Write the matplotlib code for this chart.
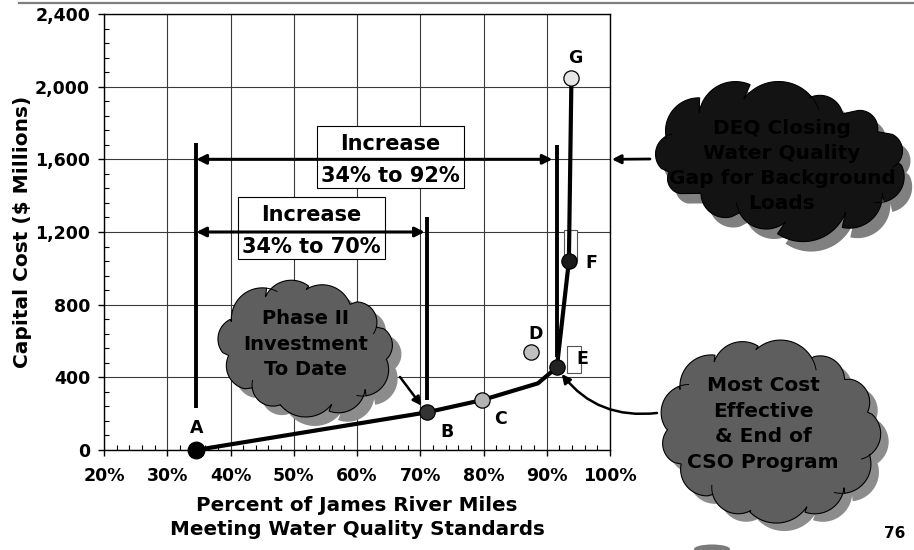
import numpy as np
import matplotlib
matplotlib.use("Agg")
import matplotlib.pyplot as plt
from matplotlib.transforms import Affine2D
from matplotlib.patches import Polygon, Rectangle, Ellipse
from matplotlib.lines import Line2D
from matplotlib.ticker import MultipleLocator, FuncFormatter

plt.rcParams["font.family"] = ["DejaVu Sans"]
plt.rcParams["font.weight"] = "bold"

# ---------------- data ----------------
point_labels = ["A", "B", "C", "D", "E", "F", "G"]
point_pct = [34.6, 71.0, 79.8, 87.5, 91.6, 93.5, 93.9]
point_cost = [0, 207, 275, 540, 455, 1040, 2045]
point_colors = ["#000000", "#333333", "#b3b3b3", "#c0c0c0", "#222222", "#1a1a1a", "#e6e6e6"]

curve_pct = [34.6, 71.0, 79.8, 88.6, 91.6, 93.5, 93.9]
curve_cost = [0, 207, 275, 367, 455, 1040, 2045]

ref_pct = [34.6, 71.0, 91.6]          # vertical reference bars
ref_top = [1690, 1280, 1680]
ref_bottom = [230, 275, 510]

span_level = [1600, 1200]             # "Increase" arrows
span_start = [34.6, 34.6]
span_end = [90.9, 70.7]
span_text = ["Increase\n34% to 92%", "Increase\n34% to 70%"]

x_ticks = [20, 30, 40, 50, 60, 70, 80, 90, 100]
y_ticks = [0, 400, 800, 1200, 1600, 2000, 2400]

# ---------------- figure ----------------
W, H = 914, 550
fig = plt.figure(figsize=(W / 100, H / 100), dpi=100)
PX = Affine2D().scale(1 / 100, -1 / 100).translate(0, H / 100) + fig.dpi_scale_trans

ax = fig.add_axes([104 / W, (H - 450) / H, (610 - 104) / W, (450 - 14) / H])
ax.set_xlim(20, 100)
ax.set_ylim(0, 2400)
ax.set_xticks(x_ticks)
ax.set_yticks(y_ticks)
ax.xaxis.set_minor_locator(MultipleLocator(2))
ax.yaxis.set_minor_locator(MultipleLocator(80))
ax.xaxis.set_major_formatter(FuncFormatter(lambda v, p: f"{v:.0f}%"))
ax.yaxis.set_major_formatter(FuncFormatter(lambda v, p: f"{v:,.0f}"))
ax.tick_params(which="major", direction="out", length=4, width=1, labelsize=12.5, pad=6, colors="black")
ax.tick_params(axis="x", which="major", pad=8)
ax.tick_params(which="minor", direction="in", length=3.5, width=0.8)
ax.set_axisbelow(True)
ax.grid(True, which="major", color="#3a3a3a", lw=0.8)
for s in ax.spines.values():
    s.set_linewidth(1.0)
    s.set_color("black")

ax.set_ylabel("Capital Cost ($ Millions)", fontsize=14.5, fontweight="bold")
ax.yaxis.set_label_coords(-0.162, 0.5)
ax.yaxis.label.set_verticalalignment("center")
ax.set_xlabel("Percent of James River Miles\nMeeting Water Quality Standards",
              fontsize=14.3, fontweight="bold", linespacing=1.32)
ax.xaxis.set_label_coords(0.5, -0.155)
ax.xaxis.label.set_verticalalignment("center")

# top rule line
fig.add_artist(Line2D([19, 914], [3, 3], transform=PX, color="#7f7f7f", lw=1.6))

# text boxes (behind arrows)
box_px = [(316.7, 126, 147.3, 62.3), (238.3, 197.3, 146.7, 62.0)]
for (bx, by, bw, bh), txt in zip(box_px, span_text):
    ax.add_patch(Rectangle((bx, by), bw, bh, transform=PX, fc="white", ec="black",
                           lw=0.8, clip_on=False, zorder=2.5))
    l1, l2 = txt.split("\n")
    ax.text(bx + bw / 2, by + 18, l1, transform=PX, ha="center", va="center",
            fontsize=15, zorder=2.6)
    ax.text(bx + bw / 2, by + 50, l2, transform=PX, ha="center", va="center",
            fontsize=15, zorder=2.6)

# vertical reference bars
for xp, yt, yb in zip(ref_pct, ref_top, ref_bottom):
    ax.plot([xp, xp], [yb, yt], color="black", lw=2.8, zorder=3, solid_capstyle="butt")

# horizontal double arrows
for lvl, x0, x1 in zip(span_level, span_start, span_end):
    ax.annotate("", xy=(x1, lvl), xytext=(x0, lvl),
                arrowprops=dict(arrowstyle="<|-|>", lw=2.2, color="black",
                                mutation_scale=14, shrinkA=0, shrinkB=0),
                zorder=3)

# small label boxes near E and F
ax.add_patch(Rectangle((93.25, 422), 2.1, 150, fc="white", ec="#555555", lw=0.8, zorder=3.5))
ax.add_patch(Rectangle((92.7, 1045), 2.1, 165, fc="white", ec="#555555", lw=0.8, zorder=3.5))

# cost curve
ax.plot(curve_pct, curve_cost, color="black", lw=3.0, zorder=4, clip_on=False,
        solid_joinstyle="round", solid_capstyle="round")

# points
label_off = {"A": (0, 16), "B": (14.4, -14.4), "C": (13, -13.7), "D": (3.6, 13),
             "E": (18, 5.8), "F": (16, -1.4), "G": (2.9, 14.7)}
for lab, xp, yp, c in zip(point_labels, point_pct, point_cost, point_colors):
    ms = 12 if lab == "A" else 11
    ax.plot([xp], [yp], "o", ms=ms, mfc=c, mec="black", mew=0.9, zorder=5, clip_on=False)
    ax.annotate(lab, xy=(xp, yp), xytext=label_off[lab], textcoords="offset points",
                ha="center", va="center", fontsize=12.5, zorder=5)


# ---------------- clouds ----------------
def cloud(cx, cy, rx, ry, weights, start=0.0, bump=0.8):
    w = np.asarray(weights, float)
    ang = np.concatenate([[0], np.cumsum(w)]) / w.sum() * 2 * np.pi + start
    P = np.c_[cx + rx * np.cos(ang), cy + ry * np.sin(ang)]
    out, inner = [], []
    for i in range(len(w)):
        p0, p1 = P[i], P[i + 1]
        M = (p0 + p1) / 2
        u = M - np.array([cx, cy])
        u /= np.linalg.norm(u)
        d = np.linalg.norm(p1 - p0) / 2
        Q = M - u * d * bump
        r = np.linalg.norm(p0 - Q)
        a1 = np.arctan2(*(p0 - Q)[::-1])
        a2 = np.arctan2(*(p1 - Q)[::-1])
        au = np.arctan2(u[1], u[0])
        delta = (a2 - a1) % (2 * np.pi)
        if (au - a1) % (2 * np.pi) > delta:
            delta -= 2 * np.pi
        t = a1 + delta * np.linspace(0, 1, 30)
        out.append(np.c_[Q[0] + r * np.cos(t), Q[1] + r * np.sin(t)])
        if i % 3 == 0:
            te = a2 + np.sign(delta) * np.linspace(0, 0.35, 10)
            inner.append(np.c_[Q[0] + r * np.cos(te), Q[1] + r * np.sin(te)])
    return np.vstack(out), inner


def draw_cloud(cx, cy, rx, ry, weights, fc, shadow, off, start=0.0):
    pts, inner = cloud(cx, cy, rx, ry, weights, start)
    ax.add_patch(Polygon(pts + np.array(off), closed=True, transform=PX, fc=shadow,
                         ec="none", clip_on=False, zorder=6))
    ax.add_patch(Polygon(pts, closed=True, transform=PX, fc=fc, ec="black",
                         lw=0.8, clip_on=False, zorder=6.1))
    for seg in inner:
        ax.add_line(Line2D(seg[:, 0], seg[:, 1], transform=PX, color="black", lw=0.7,
                           clip_on=False, zorder=6.15))


# Phase II cloud
draw_cloud(305.5, 348.5, 83, 59, [1, 0.85, 1.1, 0.9, 1.2, 0.95, 1.05, 0.9, 1.15, 1.0, 0.95],
           "#5e5e5e", "#8c8c8c", (9, 9), start=0.2)
ax.text(306, 344, "Phase II\nInvestment\nTo Date", transform=PX, ha="center", va="center",
        fontsize=14, linespacing=1.45, color="black", zorder=6.2)
ax.annotate("", xy=(point_pct[1], point_cost[1]), xycoords="data",
            xytext=(400, 377), textcoords=PX,
            arrowprops=dict(arrowstyle="-|>", lw=1.8, color="black", mutation_scale=13,
                            shrinkA=0, shrinkB=6), zorder=6.3)

# DEQ cloud
draw_cloud(781, 159, 121, 63, [1, 0.9, 1.1, 0.95, 1.2, 0.9, 1.0, 1.05, 0.9, 1.15, 0.95, 1.0, 1.05],
           "#131313", "#808080", (8, 10), start=0.1)
ax.text(782, 166, "DEQ Closing\nWater Quality\nGap for Background\nLoads", transform=PX,
        ha="center", va="center", fontsize=14.5, linespacing=1.4, color="#000000", zorder=6.2)
ax.annotate("", xy=(100.3, span_level[0]), xycoords="data",
            xytext=(650, 159), textcoords=PX,
            arrowprops=dict(arrowstyle="-|>", lw=2.0, color="black", mutation_scale=13,
                            shrinkA=0, shrinkB=0), zorder=6.3, annotation_clip=False)

# Most cost effective cloud
draw_cloud(770, 430.5, 104, 81.5, [1, 0.9, 1.15, 0.95, 1.1, 0.9, 1.05, 1.0, 0.9, 1.2, 0.95, 1.0, 1.05],
           "#5e5e5e", "#8c8c8c", (8, 8), start=0.3)
ax.text(763, 424, "Most Cost\nEffective\n& End of\nCSO Program", transform=PX,
        ha="center", va="center", fontsize=14.5, linespacing=1.45, color="black", zorder=6.2)
ax.annotate("", xy=(point_pct[4], point_cost[4]), xycoords="data",
            xytext=(657, 413), textcoords=PX,
            arrowprops=dict(arrowstyle="-|>", lw=1.8, color="black", mutation_scale=13,
                            shrinkA=0, shrinkB=6, connectionstyle="arc3,rad=-0.3"),
            zorder=6.3, annotation_clip=False)

# page number and small smudge
fig.text(884, 533, "76", transform=PX, ha="left", va="center", fontsize=11)
fig.add_artist(Ellipse((712, 549), 36, 9, transform=PX, fc="#7a7a7a", ec="none"))

fig.savefig("out.png", dpi=100)
